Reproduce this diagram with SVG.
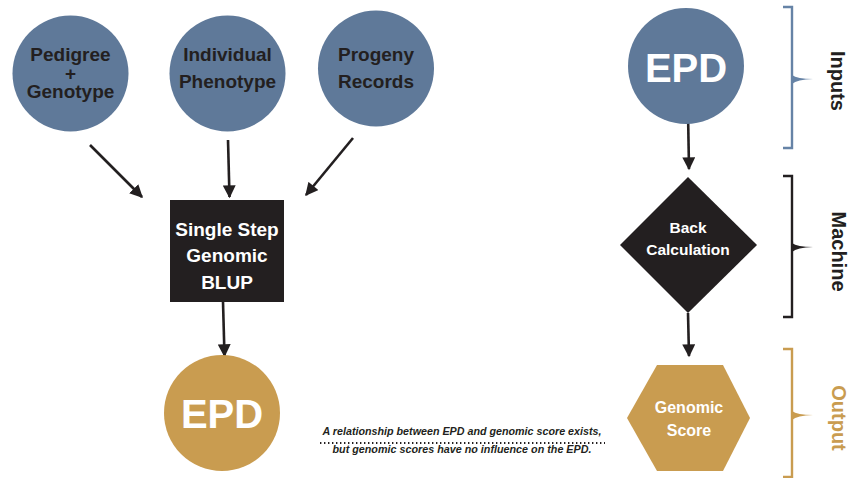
<svg xmlns="http://www.w3.org/2000/svg" width="859" height="478" viewBox="0 0 859 478">
<defs>
<style>
.blue{fill:#5f7999}
.gold{fill:#c99c50}
.dark{fill:#231f20}
.lbl{font-family:"Liberation Sans",Arial,sans-serif;font-weight:bold;text-anchor:middle}
.in{font-size:19px;fill:#231f20}
.wt{fill:#ffffff}
.big{font-size:40px}
.conn{stroke:#231f20;stroke-width:2.6;fill:none;marker-end:url(#ah)}
.cap{font-family:"Liberation Sans",Arial,sans-serif;font-weight:bold;font-style:italic;font-size:11.5px;fill:#231f20;text-anchor:middle}
</style>
<marker id="ah" viewBox="0 0 10 10" refX="9" refY="5" markerWidth="5.2" markerHeight="5" markerUnits="strokeWidth" orient="auto">
<path d="M0,0 L10,5 L0,10 Z" fill="#231f20"/>
</marker>
</defs>
<rect width="859" height="478" fill="#ffffff"/>

<g id="connectors">
<line class="conn" x1="90" y1="145" x2="142" y2="197"/>
<line class="conn" x1="228" y1="140" x2="229.5" y2="197"/>
<line class="conn" x1="353" y1="138" x2="306" y2="195"/>
<line class="conn" x1="223" y1="302" x2="224.5" y2="356"/>
<line class="conn" x1="688" y1="112" x2="689" y2="169"/>
<line class="conn" x1="688" y1="313" x2="689" y2="356"/>
</g>

<g id="pedigree">
<circle class="blue" cx="70.5" cy="73.5" r="58"/>
<text class="lbl in" x="70.5" y="61">Pedigree</text>
<text class="lbl in" x="70.5" y="80">+</text>
<text class="lbl in" x="70.5" y="98">Genotype</text>
</g>

<g id="phenotype">
<circle class="blue" cx="227.5" cy="73.5" r="58"/>
<text class="lbl in" x="227.5" y="61">Individual</text>
<text class="lbl in" x="227.5" y="88">Phenotype</text>
</g>

<g id="progeny">
<circle class="blue" cx="376" cy="68.5" r="58"/>
<text class="lbl in" x="376" y="61">Progeny</text>
<text class="lbl in" x="376" y="88">Records</text>
</g>

<g id="ssgblup">
<rect class="dark" x="170" y="200" width="114" height="102"/>
<text class="lbl wt" style="font-size:19px" x="227" y="236">Single Step</text>
<text class="lbl wt" style="font-size:19px" x="227" y="262">Genomic</text>
<text class="lbl wt" style="font-size:19px" x="227" y="289">BLUP</text>
</g>

<g id="epd-output">
<circle class="gold" cx="222" cy="413" r="58"/>
<text class="lbl wt big" x="222" y="428">EPD</text>
</g>

<g id="epd-input">
<circle class="blue" cx="686" cy="66" r="58"/>
<text class="lbl wt big" x="686" y="82">EPD</text>
</g>

<g id="back-calculation">
<polygon class="dark" points="688,177 757,245 688,313 620,245"/>
<text class="lbl wt" style="font-size:15.5px" x="688" y="233">Back</text>
<text class="lbl wt" style="font-size:15.5px" x="688" y="255">Calculation</text>
</g>

<g id="genomic-score">
<polygon class="gold" points="657,365 723,365 750,418 723,471 657,471 627,418"/>
<text class="lbl wt" style="font-size:16px" x="689" y="413">Genomic</text>
<text class="lbl wt" style="font-size:16px" x="689" y="436">Score</text>
</g>

<g id="caption">
<text class="cap" x="462" y="435" textLength="279" lengthAdjust="spacingAndGlyphs">A relationship between EPD and genomic score exists,</text>
<line x1="320" y1="443" x2="605" y2="443" stroke="#231f20" stroke-width="2" stroke-dasharray="1.4 2.6"/>
<text class="cap" x="462" y="453" textLength="259" lengthAdjust="spacingAndGlyphs">but genomic scores have no influence on the EPD.</text>
</g>

<g id="inputs-bracket">
<path d="M783,7 H792 V148 H783" fill="none" stroke="#6683a6" stroke-width="2.4"/>
<path d="M792,75 Q797,79 813,79 Q797,79.5 792,84 Z" fill="#6683a6"/>
<text class="lbl" style="font-size:20px;fill:#231f20" transform="translate(831,81) rotate(90)">Inputs</text>
</g>

<g id="machine-bracket">
<path d="M783,176 H792 V317 H783" fill="none" stroke="#231f20" stroke-width="2.4"/>
<path d="M792,243 Q797,247 813,247 Q797,247.5 792,252 Z" fill="#231f20"/>
<text class="lbl" style="font-size:20px;fill:#231f20" transform="translate(832,251.5) rotate(90)">Machine</text>
</g>

<g id="output-bracket">
<path d="M783,349 H792 V477 H783" fill="none" stroke="#c99c50" stroke-width="2.4"/>
<path d="M792,411 Q797,415 813,415 Q797,415.5 792,420 Z" fill="#c99c50"/>
<text class="lbl" style="font-size:20px;fill:#c99c50" transform="translate(832,418) rotate(90)">Output</text>
</g>
</svg>
